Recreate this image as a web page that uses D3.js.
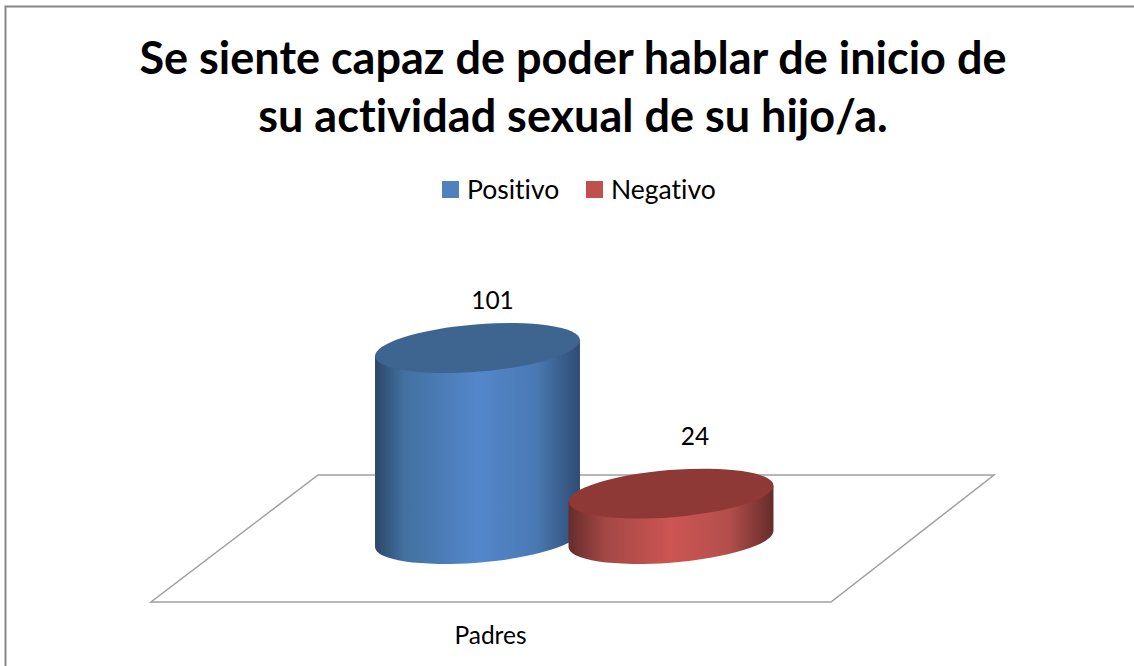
<!DOCTYPE html>
<html><head><meta charset="utf-8">
<script src="https://cdn.jsdelivr.net/npm/d3@7/dist/d3.min.js"></script>
<style>html,body{margin:0;padding:0;background:#fff;overflow:hidden}svg{display:block}text{font-family:Lato,"Open Sans",sans-serif;fill:#000;font-variant-ligatures:none}</style>
</head><body><script>
const titleLines = ["Se siente capaz de poder hablar de inicio de", "su actividad sexual de su hijo/a."];
const categories = ["Padres"];
const seriesNames = ["Positivo", "Negativo"];
const seriesValues = [101, 24];
const seriesColors = ["#4f81bd", "#c0504d"];
const topColors = ["#3e6490", "#8f3937"];
const sideStops = [
  [[0,"#2c4768"],[0.14,"#42709f"],[0.5,"#5487cb"],[0.78,"#4a7ab5"],[1,"#2f4c72"]],
  [[0,"#662c2a"],[0.18,"#a34846"],[0.5,"#cd5552"],[0.78,"#b34f4c"],[1,"#662c2a"]]
];

const W = 1134, H = 666;
const svg = d3.select("body").append("svg").attr("width", W).attr("height", H);
const defs = svg.append("defs");

svg.append("rect").attr("x",5.5).attr("y",6.5).attr("width",1140).attr("height",680)
  .attr("fill","#fff").attr("stroke","#868686").attr("stroke-width",2);

svg.selectAll("text.title").data(titleLines).join("text").attr("class","title")
  .attr("x",573).attr("y",(d,i)=>74+i*58).attr("text-anchor","middle")
  .attr("font-size",45).attr("font-weight",700).text(d=>d);

// legend
const legendX = d3.scaleOrdinal().domain(seriesNames).range([442,586]);
const lg = svg.selectAll("g.lg").data(seriesNames).join("g").attr("class","lg")
  .attr("transform",d=>`translate(${legendX(d)},181)`);
lg.append("rect").attr("width",17).attr("height",17).attr("fill",(d,i)=>seriesColors[i]);
lg.append("text").attr("x",25).attr("y",18).attr("font-size",26.5).text(d=>d);

// floor
const floorY = d3.scaleLinear().domain([0,1]).range([602,475]);
const floorX = d3.scaleLinear().domain([0,1]).range([151,831]);
const skew = 167;
svg.append("path").attr("fill","none").attr("stroke","#a0a0a0").attr("stroke-width",1.5)
  .attr("d",`M${floorX(0)},${floorY(0)}L${floorX(1)},${floorY(0)}L${floorX(1)+skew-4},${floorY(1)}L${floorX(0)+skew},${floorY(1)}Z`);

// scales
const y = d3.scaleLinear().domain([0,101]).range([539,348]);
const x = d3.scalePoint().domain(seriesNames).range([477.5,671]);
const labelX = d3.scalePoint().domain(seriesNames).range([492.5,695]);
const labelY = d3.scaleLinear().domain([24,101]).range([445,309]);
const rx = 102.8, ry = 23.6, rot = -4.7, th = rot*Math.PI/180;
const hw = Math.sqrt(rx*rx*Math.cos(th)**2 + ry*ry*Math.sin(th)**2);
const dy = (rx*rx-ry*ry)*Math.sin(th)*Math.cos(th)/hw;   // y offset of the right extreme

seriesNames.forEach((name,i)=>{
  const g = defs.append("linearGradient").attr("id","side"+i);
  sideStops[i].forEach(s=>g.append("stop").attr("offset",s[0]).attr("stop-color",s[1]));
});

const cyl = svg.selectAll("g.cyl").data(seriesNames).join("g").attr("class","cyl");
cyl.each(function(name,i){
  const g = d3.select(this);
  const cx = x(name), yt = y(seriesValues[i]), yb = y(0);
  g.append("path").attr("fill",`url(#side${i})`)
   .attr("d",`M${cx-hw},${yt-dy}L${cx-hw},${yb-dy}A${rx},${ry} ${rot} 0 0 ${cx+hw},${yb+dy}L${cx+hw},${yt+dy}Z`);
  g.append("ellipse").attr("rx",rx).attr("ry",ry).attr("fill",topColors[i])
   .attr("transform",`translate(${cx},${yt}) rotate(${rot})`);
  g.append("text").attr("x",labelX(name)).attr("y",labelY(seriesValues[i])).attr("text-anchor","middle").attr("font-size",24.5).text(seriesValues[i]);
});

svg.selectAll("text.cat").data(categories).join("text").attr("class","cat")
  .attr("x",490.5).attr("y",644).attr("text-anchor","middle").attr("font-size",24.5).text(d=>d);
</script></body></html>
